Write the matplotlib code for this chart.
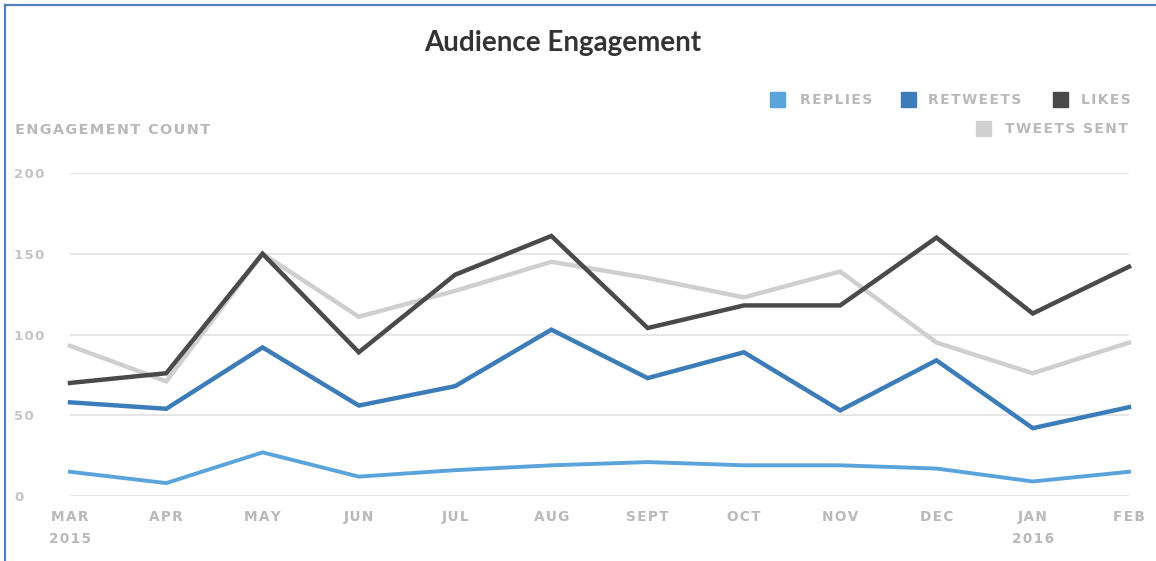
import matplotlib
matplotlib.use("Agg")
import matplotlib.pyplot as plt
from matplotlib.lines import Line2D
from matplotlib.patches import Rectangle

months = ["MAR\n2015", "APR", "MAY", "JUN", "JUL", "AUG", "SEPT", "OCT", "NOV", "DEC", "JAN\n2016", "FEB"]
replies = [15, 8, 27, 12, 16, 19, 21, 19, 19, 17, 9, 15]
retweets = [58, 54, 92, 56, 68, 103, 73, 89, 53, 84, 42, 55]
likes = [70, 76, 150, 89, 137, 161, 104, 118, 118, 160, 113, 142]
tweets_sent = [93, 71, 150, 111, 127, 145, 135, 123, 139, 95, 76, 95]
yticks = [0, 50, 100, 150, 200]

C_REP = "#5ba3db"
C_RT = "#3c7db9"
C_LIKE = "#4a4a4a"
C_TW = "#cfcfcf"
C_TXT = "#b9b9b9"

def spaced(s):
    return "\u200a".join(s)

W, H = 1156, 561
fig = plt.figure(figsize=(W / 100, H / 100), dpi=100)
fig.patch.set_facecolor("white")

ax = fig.add_axes([70 / W, 1 - 496 / H, (1129 - 70) / W, (496 - 173) / H])
x = list(range(len(months)))
ax.plot(x, tweets_sent, color=C_TW, lw=3.2, solid_joinstyle="miter", clip_on=False, zorder=3)
ax.plot(x, likes, color=C_LIKE, lw=3.2, solid_joinstyle="miter", clip_on=False, zorder=4)
ax.plot(x, retweets, color=C_RT, lw=3.2, solid_joinstyle="miter", clip_on=False, zorder=4)
ax.plot(x, replies, color=C_REP, lw=2.8, solid_joinstyle="miter", clip_on=False, zorder=4)

ax.set_xlim(0, len(months) - 1)
ax.set_ylim(0, 200)
ax.set_yticks(yticks)
ax.set_yticklabels([spaced(str(v)) for v in yticks])
ax.set_xticks(x)
ax.set_xticklabels([spaced(m.split("\n")[0]) + ("\n" + spaced(m.split("\n")[1]) if "\n" in m else "") for m in months])
for s in ax.spines.values():
    s.set_visible(False)
ax.grid(axis="y", color="#e2e2e2", lw=1.2)
ax.grid(axis="x", visible=False)
ax.set_axisbelow(True)
ax.tick_params(axis="both", length=0)
ax.tick_params(axis="y", pad=40, labelsize=9.5, labelcolor="#c4c4c4")
ax.tick_params(axis="x", pad=10, labelsize=9.8, labelcolor=C_TXT)
for lab in ax.get_yticklabels():
    lab.set_ha("left")
    lab.set_fontweight("bold")
for lab in ax.get_xticklabels():
    lab.set_fontweight("bold")
    lab.set_linespacing(1.75)

# title
fig.text(563 / W, 1 - 43 / H, "Audience Engagement", ha="center", va="center",
         fontsize=20, fontweight="bold", color="#333333", family="Lato")

# y axis title
fig.text(15 / W, 1 - 130 / H, spaced("ENGAGEMENT COUNT"), ha="left", va="center",
         fontsize=10.4, fontweight="bold", color=C_TXT)

# legend
leg = [("REPLIES", C_REP, 770, 800, 100), ("RETWEETS", C_RT, 901, 928, 100),
       ("LIKES", C_LIKE, 1053, 1081, 100), ("TWEETS SENT", C_TW, 976, 1005, 129)]
for name, col, sx, tx, py in leg:
    fig.patches.append(Rectangle((sx / W, 1 - (py + 7) / H), 15 / W, 15 / H,
                                 transform=fig.transFigure, color=col, figure=fig))
    fig.text(tx / W, 1 - py / H, spaced(name), ha="left", va="center",
             fontsize=10, fontweight="bold", color=C_TXT)

# frame border (left & top)
fig.add_artist(Line2D([5 / W, 5 / W], [0, 1 - 5 / H], transform=fig.transFigure, color="#4f81bd", lw=1.6))
fig.add_artist(Line2D([5 / W, 1], [1 - 5 / H, 1 - 5 / H], transform=fig.transFigure, color="#4f81bd", lw=1.6))

fig.savefig("out.png", dpi=100, facecolor="white")
